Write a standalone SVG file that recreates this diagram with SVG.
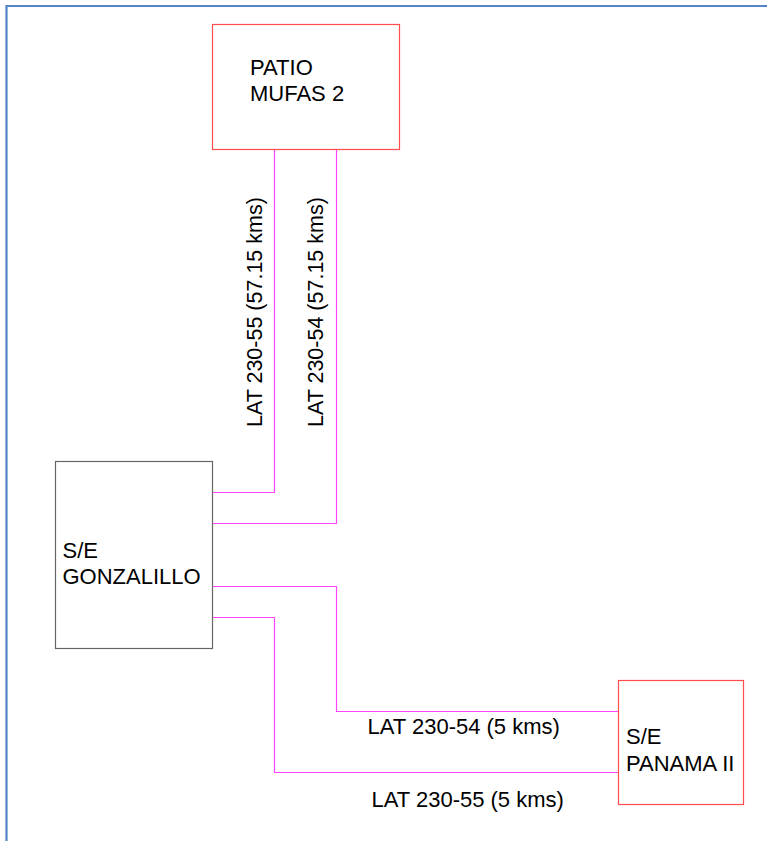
<svg xmlns="http://www.w3.org/2000/svg" width="767" height="841" viewBox="0 0 767 841">
<style>
.lbl{font-family:"Liberation Sans",Arial,sans-serif;font-size:22px;fill:#000}
.vl{font-size:21.5px}
.red{fill:#fff;stroke:#ff4d4d;stroke-width:1.2}
.gray{fill:#fff;stroke:#666;stroke-width:1.2}
.wire{fill:none;stroke:#ff44ff;stroke-width:1.2}
</style>
<rect width="767" height="841" fill="#fff"/>
<path d="M6.5,841 V6 H767" fill="none" stroke="#5585c8" stroke-width="2.2"/>
<g id="connectors">
<path class="wire" d="M274.5,149 V492.5 H212"/>
<path class="wire" d="M336.5,149 V523.5 H212"/>
<path class="wire" d="M212,586.5 H336.5 V711.5 H618"/>
<path class="wire" d="M212,617.5 H274.5 V772.5 H618"/>
<text class="lbl vl" transform="translate(261.5,427) rotate(-90)">LAT 230-55 (57.15 kms)</text>
<text class="lbl vl" transform="translate(322.5,427) rotate(-90)">LAT 230-54 (57.15 kms)</text>
<text class="lbl" x="367.5" y="734">LAT 230-54 (5 kms)</text>
<text class="lbl" x="371.5" y="807">LAT 230-55 (5 kms)</text>
</g>
<g id="patio">
<rect class="red" x="212.5" y="24.5" width="187" height="125"/>
<text class="lbl" x="250" y="74.5">PATIO</text>
<text class="lbl" x="250" y="100.5">MUFAS 2</text>
</g>
<g id="gonzalillo">
<rect class="gray" x="55.5" y="461.5" width="157" height="187"/>
<text class="lbl" x="62.5" y="557.5">S/E</text>
<text class="lbl" x="62.5" y="583.5">GONZALILLO</text>
</g>
<g id="panama">
<rect class="red" x="618.5" y="680.5" width="125" height="124"/>
<text class="lbl" x="626" y="744">S/E</text>
<text class="lbl" x="626" y="770.5">PANAMA II</text>
</g>
</svg>
